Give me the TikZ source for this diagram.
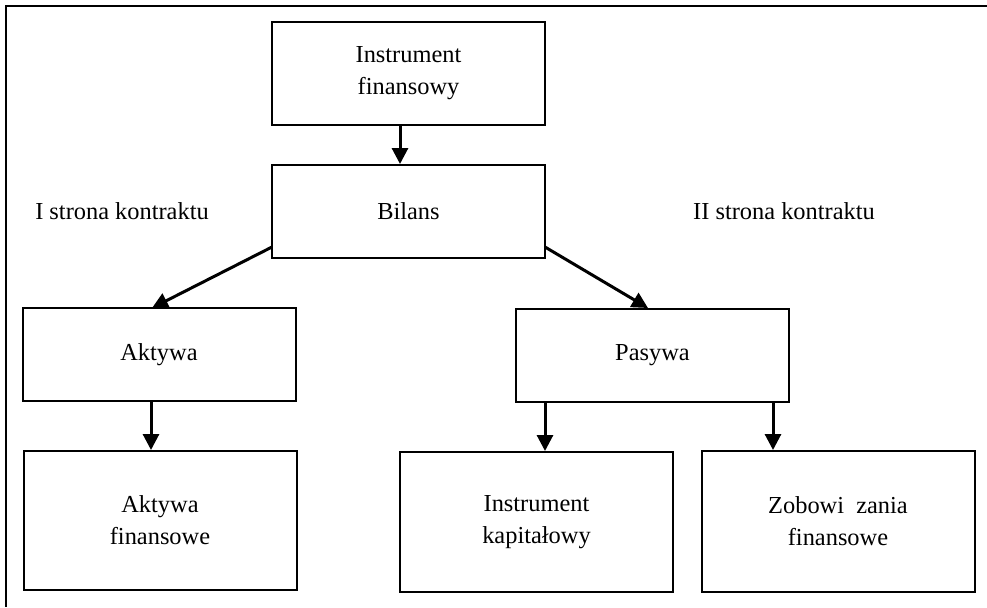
\documentclass[tikz,border=0pt]{standalone}
\usepackage{fontspec}
\setmainfont{Liberation Serif}
\usetikzlibrary{arrows.meta}
\begin{document}
\begin{tikzpicture}[x=0.5pt,y=-0.5pt,
  box/.style={draw=black,line width=1pt,minimum width=136.5pt,align=center,font=\fontsize{12.2}{16}\selectfont,inner sep=0pt},
  lbl/.style={font=\fontsize{12.2}{16}\selectfont,inner sep=0pt},
  conn/.style={line width=1.5pt,-{Triangle[length=8pt,width=8pt]}}]
\useasboundingbox (0,0) rectangle (987,607);
\draw[line width=1pt] (987,6) -- (6,6) -- (6,607);
\node[box,minimum height=51.5pt] (if) at (408.5,73.5) {Instrument\\finansowy};
\node[box,minimum height=46.5pt] (bil) at (408.5,211.5) {Bilans};
\node[box,minimum height=46.5pt] (akt) at (159,354.5) {Aktywa};
\node[box,minimum height=69.5pt] (af) at (160,520.5) {Aktywa\\finansowe};
\node[box,minimum height=46.5pt] (pas) at (652.5,355.5) {Pasywa};
\node[box,minimum height=70pt] (ik) at (536.5,522) {Instrument\\kapitałowy};
\node[box,minimum height=70.5pt] (zob) at (838,521.5) {Zobowi\ \ zania\\finansowe};
\node[lbl] (l1) at (122,211) {I strona kontraktu};
\node[lbl] (l2) at (784,211) {II strona kontraktu};
\coordinate (bl) at (272,247);
\coordinate (br) at (545,247);
\coordinate (al) at (152,308);
\coordinate (ar) at (648,308);
\draw[conn] (if.south -| 400,0) -- (bil.north -| 400,0);
\draw[conn] (bl) -- (al);
\draw[conn] (br) -- (ar);
\draw[conn] (akt.south -| 151,0) -- (af.north -| 151,0);
\draw[conn] (pas.south -| 545,0) -- (ik.north -| 545,0);
\draw[conn] (pas.south -| 773,0) -- (zob.north -| 773,0);
\end{tikzpicture}
\end{document}
